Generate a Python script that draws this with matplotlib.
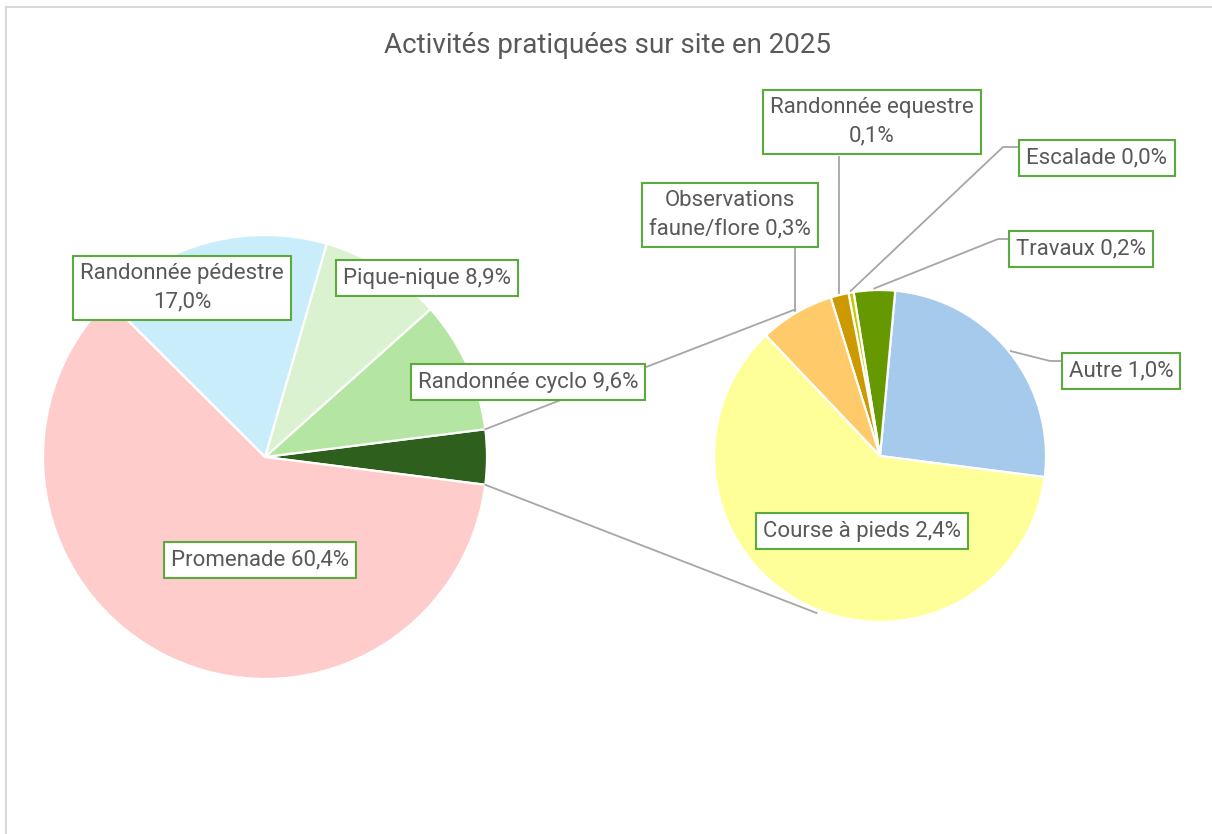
import numpy as np
import matplotlib.pyplot as plt

plt.rcParams['font.family'] = ['Roboto', 'DejaVu Sans']

# data (percent of all activities)
main_names = ['Randonnée cyclo', 'Pique-nique', 'Randonnée pédestre', 'Promenade']
main_values = [9.6, 8.9, 17.0, 60.4]
main_colors = ['#B4E5A2', '#DAF2D0', '#CAEDFB', '#FFCCCC']
other_color = '#2E5F1C'

sub_names = ['Autre', 'Travaux', 'Escalade', 'Randonnée equestre',
             'Observations faune/flore', 'Course à pieds']
sub_values = [1.02, 0.16, 0.02, 0.07, 0.29, 2.43]
sub_colors = ['#A6CAEC', '#669900', '#C8C800', '#CC9900', '#FFCA69', '#FFFF99']

title = 'Activités pratiquées sur site en 2025'

# label text overrides (line breaks like the original)
wrapped = {
    'Randonnée pédestre': 'Randonnée pédestre\n{}',
    'Randonnée equestre': 'Randonnée equestre\n{}',
    'Observations faune/flore': 'Observations\nfaune/flore {}',
}

# layout in image pixels (x right, y down)
W, H = 1212, 834
label_pos = {
    'Randonnée pédestre': (182, 288),
    'Pique-nique': (427, 278),
    'Randonnée cyclo': (528, 382),
    'Promenade': (260, 560),
    'Observations faune/flore': (730, 215),
    'Randonnée equestre': (872, 122),
    'Escalade': (1097, 158),
    'Travaux': (1081, 249),
    'Autre': (1121, 371),
    'Course à pieds': (862, 531),
}
# leader lines: ('v', box bottom y) or ('e', elbow x, elbow y, box left x)
leaders = {
    'Observations faune/flore': ('v', 248),
    'Randonnée equestre': ('v', 157),
    'Escalade': ('e', 1003, 147, 1017),
    'Travaux': ('e', 998, 239, 1008),
    'Autre': ('e', 1050, 361, 1061),
}

text_col = '#595959'
line_col = '#A6A6A6'
box_col = '#5BAA3D'


def img(x, y):
    return np.array([x, H - y], dtype=float)


def fmt(v):
    return f'{v:.1f}'.replace('.', ',') + '%'


def label_text(name, v):
    return wrapped.get(name, name + ' {}').format(fmt(v))


fig = plt.figure(figsize=(W / 100, H / 100), dpi=100)
ax = fig.add_axes([0, 0, 1, 1])

c1, r1 = img(265, 457), 222
c2, r2 = img(880, 456), 166

vals1 = [sum(sub_values)] + main_values
start1 = -vals1[0] / sum(vals1) * 360 / 2
wp = dict(edgecolor='white', linewidth=1.6)
w1, _ = ax.pie(vals1, colors=[other_color] + main_colors, center=c1, radius=r1,
               startangle=start1, wedgeprops=wp)
w2, _ = ax.pie(sub_values, colors=sub_colors, center=c2, radius=r2,
               startangle=-7.3, wedgeprops=wp)


def on_arc(c, r, ang, k=1.0):
    a = np.radians(ang)
    return c + r * k * np.array([np.cos(a), np.sin(a)])


# series lines between the two pies
p_top = on_arc(c1, r1, w1[0].theta2)
p_bot = on_arc(c1, r1, w1[0].theta1)
q_top = on_arc(c2, r2, 120, 1.02)
q_bot = on_arc(c2, r2, -112, 1.02)
for p, q in [(p_top, q_top), (p_bot, q_bot)]:
    ax.plot([p[0], q[0]], [p[1], q[1]], color=line_col, lw=1.3, zorder=3)

# leader lines for the small slices
for name, w in zip(sub_names, w2):
    if name not in leaders:
        continue
    spec = leaders[name]
    a = on_arc(c2, r2, (w.theta1 + w.theta2) / 2, 1.01)
    if spec[0] == 'v':
        xs, ys = [a[0], a[0]], [a[1], H - spec[1]]
    else:
        xs = [a[0], spec[1], spec[3]]
        ys = [a[1], H - spec[2], H - spec[2]]
    ax.plot(xs, ys, color=line_col, lw=1.3, zorder=3)

# data labels
for name, v in list(zip(main_names, main_values)) + list(zip(sub_names, sub_values)):
    x, y = img(*label_pos[name])
    ax.text(x, y, label_text(name, v), ha='center', va='center', fontsize=16,
            color=text_col, linespacing=1.45, zorder=6,
            bbox=dict(boxstyle='square,pad=0.32', fc='white', ec=box_col, lw=1.5))

tx, ty = img(608, 45)
ax.text(tx, ty, title, ha='center', va='center', fontsize=20, color=text_col)

# chart area border (top and left edges visible)
ax.plot([6, W], [H - 7, H - 7], color='#D9D9D9', lw=1.5, zorder=1)
ax.plot([6, 6], [0, H - 7], color='#D9D9D9', lw=1.5, zorder=1)

ax.set_xlim(0, W)
ax.set_ylim(0, H)
ax.set_aspect('equal')
ax.axis('off')

fig.savefig('out.png', dpi=100, facecolor='white')
